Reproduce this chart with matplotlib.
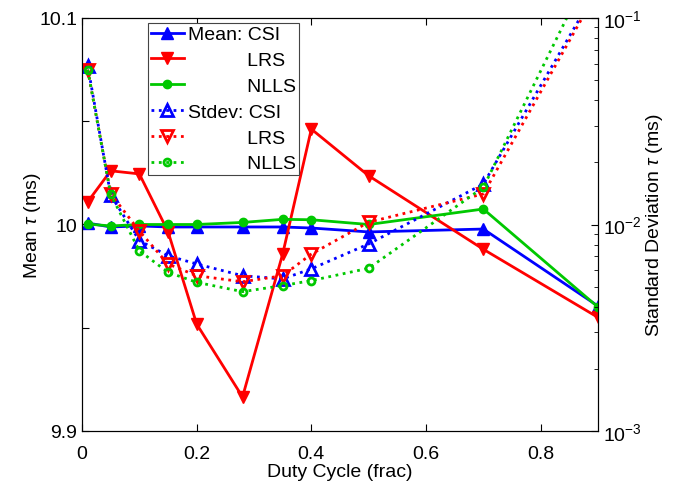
import matplotlib
matplotlib.use('Agg')
import matplotlib.pyplot as plt
from matplotlib.ticker import LogLocator, NullFormatter

plt.rcParams['font.family'] = ['Liberation Sans', 'DejaVu Sans']
plt.rcParams['mathtext.fontset'] = 'custom'
plt.rcParams['mathtext.rm'] = 'Liberation Sans'
plt.rcParams['mathtext.it'] = 'Liberation Sans:italic'
plt.rcParams['font.size'] = 14

# Duty cycle values
duty = [0.01, 0.05, 0.1, 0.15, 0.2, 0.28, 0.35, 0.4, 0.5, 0.7, 0.9]

# Mean tau (ms), left axis
mean_csi = [10.0007, 9.9988, 9.9993, 9.9988, 9.9988, 9.9988, 9.9988, 9.9983, 9.9964, 9.9978, 9.9605]
mean_lrs = [10.011, 10.026, 10.0245, 9.9966, 9.9518, 9.9165, 9.9857, 10.0462, 10.0236, 9.988, 9.955]
mean_nlls = [10.0002, 9.9993, 10.0, 10.0, 10.0, 10.001, 10.0025, 10.0023, 10.0, 10.0075, 9.960]

# Standard deviation tau (ms), right axis
std_csi = [0.0587, 0.0139, 0.00836, 0.00706, 0.00644, 0.00565, 0.00545, 0.00610, 0.00805, 0.0157, 0.141]
std_lrs = [0.0562, 0.0141, 0.0093, 0.00644, 0.00565, 0.00528, 0.00565, 0.00719, 0.01026, 0.01406, 0.137]
std_nlls = [0.0562, 0.0140, 0.00746, 0.00587, 0.00525, 0.00473, 0.00506, 0.00535, 0.00614, 0.01513, 0.203]

blue = '#0000ff'
red = '#ff0000'
green = '#00c800'
pad = ' ' * 11

fig = plt.figure(figsize=(6.84, 4.89), dpi=100)
ax = fig.add_axes([82 / 684, 1 - 432 / 489, 516 / 684, 413 / 489])
ax2 = ax.twinx()

h1, = ax.plot(duty, mean_csi, '-', color=blue, lw=2, marker='^', ms=9, label='Mean: CSI')
h2, = ax.plot(duty, mean_lrs, '-', color=red, lw=2, marker='v', ms=9, label=pad + 'LRS')
h3, = ax.plot(duty, mean_nlls, '-', color=green, lw=2, marker='o', ms=6, label=pad + 'NLLS')

h4, = ax2.plot(duty, std_csi, ':', color=blue, lw=2, marker='^', ms=9, mfc='none', mew=2, label='Stdev: CSI')
h5, = ax2.plot(duty, std_lrs, ':', color=red, lw=2, marker='v', ms=9, mfc='none', mew=2, label=pad + 'LRS')
h6, = ax2.plot(duty, std_nlls, ':', color=green, lw=2, marker='o', ms=5, mfc='none', mew=2, label=pad + 'NLLS')

ax.set_xlim(0, 0.9)
ax.set_ylim(9.9, 10.1)
ax.set_xticks([0, 0.2, 0.4, 0.6, 0.8])
ax.set_xticklabels(['0', '0.2', '0.4', '0.6', '0.8'])
ax.set_yticks([9.9, 9.95, 10, 10.05, 10.1])
ax.set_yticklabels(['9.9', '', '10', '', '10.1'])
ax.tick_params(direction='in', length=5, top=True, right=False, labelsize=14)
ax.tick_params(axis='x', pad=10)

ax2.set_yscale('log')
ax2.set_ylim(1e-3, 1e-1)
ax2.yaxis.set_major_locator(LogLocator(base=10, numticks=5))
ax2.yaxis.set_minor_locator(LogLocator(base=10, subs=range(2, 10), numticks=20))
ax2.yaxis.set_minor_formatter(NullFormatter())
ax2.tick_params(which='both', direction='in', labelsize=14)
ax2.tick_params(which='major', length=5)
ax2.tick_params(which='minor', length=3)

ax.set_xlabel('Duty Cycle (frac)', labelpad=1)
ax.set_ylabel(r'Mean $\tau$ (ms)', labelpad=-3)
ax2.set_ylabel(r'Standard Deviation $\tau$ (ms)', labelpad=2)

leg = ax2.legend(handles=[h1, h2, h3, h4, h5, h6], loc='upper left',
                 bbox_to_anchor=(0.128, 0.988), borderaxespad=0, fancybox=False,
                 edgecolor='#444444', framealpha=1, handlelength=1.7,
                 handletextpad=0.2, labelspacing=0.42, borderpad=0.15, fontsize=14)
leg.get_frame().set_linewidth(0.8)

fig.savefig('out.png', dpi=100)
